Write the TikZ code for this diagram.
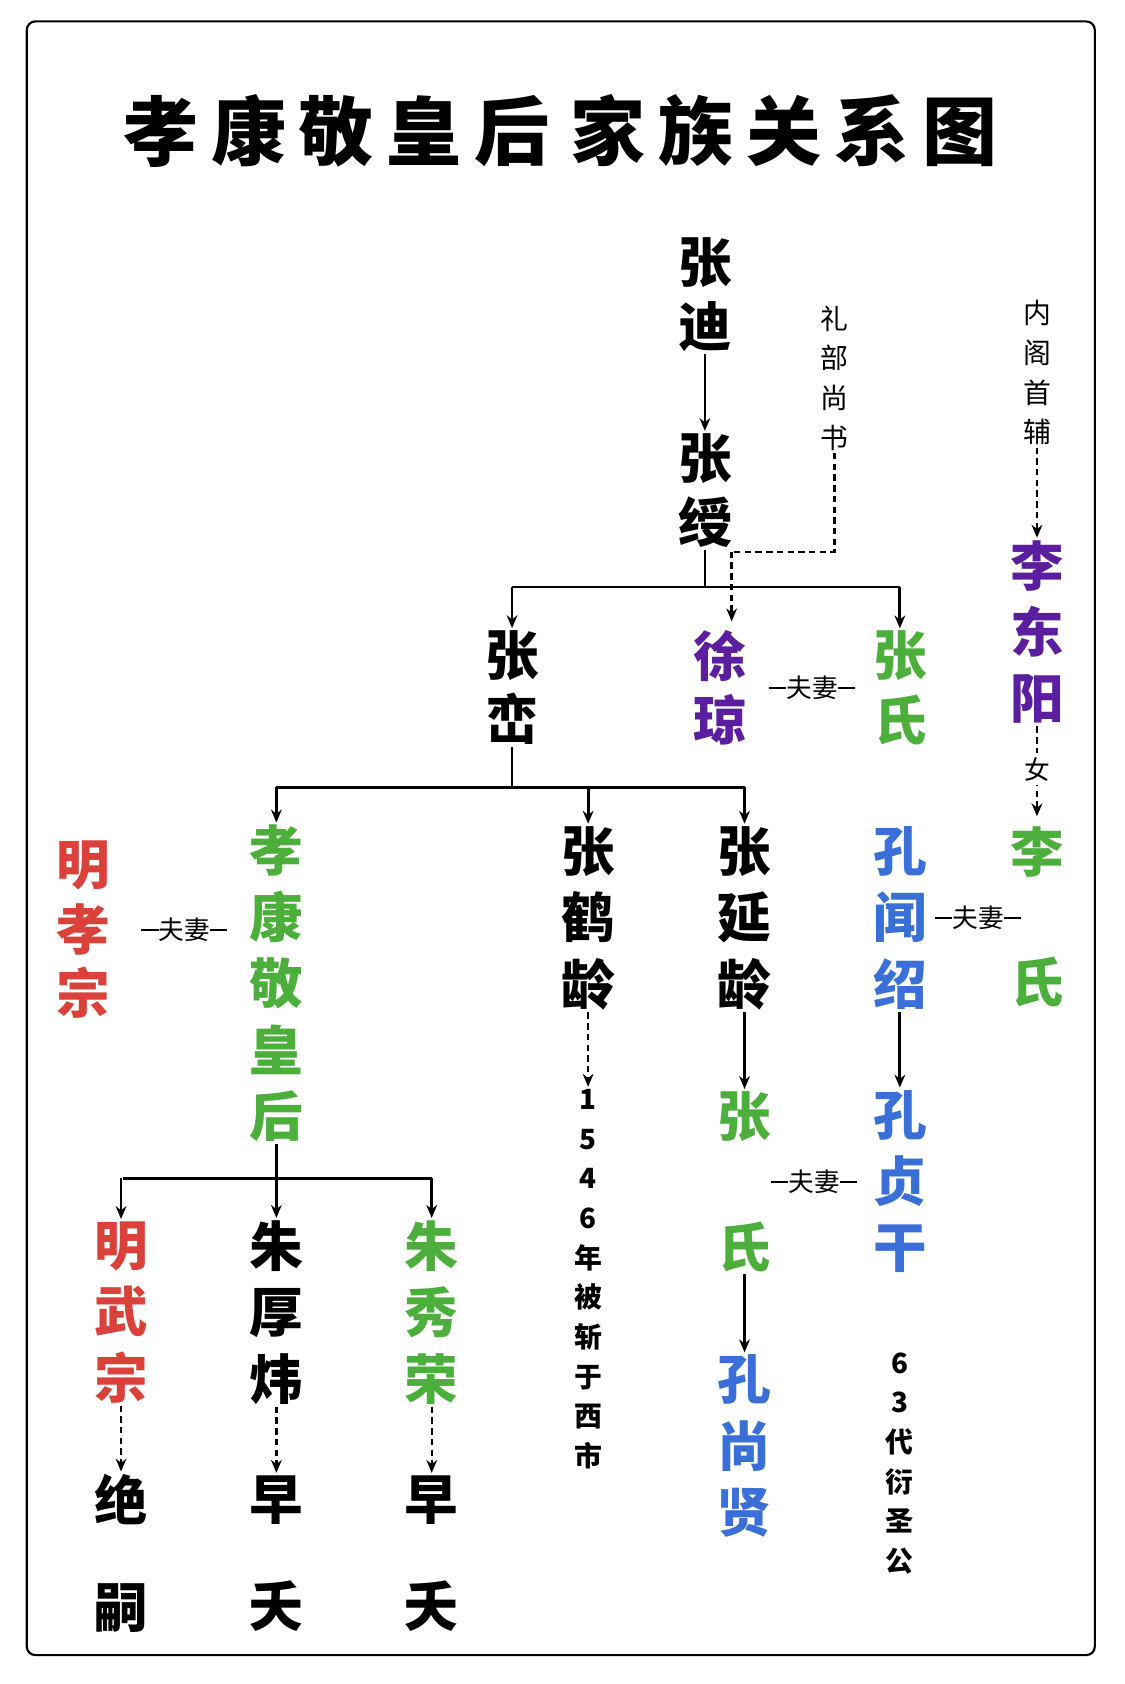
\documentclass[tikz,border=0pt]{standalone}
\usepackage{fontspec}
\newfontfamily\cjk{Noto Sans CJK SC}
\usetikzlibrary{arrows.meta}
\definecolor{cg}{HTML}{4CAF3C}
\definecolor{cp}{HTML}{5A1E9E}
\definecolor{cr}{HTML}{D9413A}
\definecolor{cb}{HTML}{3B6FD8}
\newcommand{\fq}{\rule[0.6ex]{8pt}{0.9pt}夫妻\rule[0.6ex]{8pt}{0.9pt}}
\newcommand{\tg}{\hspace{6pt}}
\begin{document}
\begin{tikzpicture}[x=0.5pt,y=-0.5pt,
 nm/.style={font=\cjk\bfseries\fontsize{25}{30}\selectfont,align=center,inner sep=1pt},
 nm2/.style={font=\cjk\bfseries\fontsize{25}{31}\selectfont,align=center,inner sep=1pt},
 sm/.style={font=\cjk\fontsize{13}{18.5}\selectfont,align=center,inner sep=1pt},
 smb/.style={font=\cjk\bfseries\fontsize{13}{18.5}\selectfont,align=center,inner sep=1pt},
 fqs/.style={font=\cjk\fontsize{12}{14}\selectfont,inner sep=1pt},
 ln/.style={line width=1.3pt},
 ar/.style={line width=1.3pt,-{Stealth[length=6pt,width=5pt]}},
 da/.style={line width=1.1pt,dashed,dash pattern=on 3pt off 2pt,-{Stealth[length=6pt,width=5pt]}}]
\useasboundingbox (0,0) rectangle (1050,1572);
\draw[line width=1pt,rounded corners=4pt] (25,20) rectangle (1022,1545);
\node[font=\cjk\bfseries\fontsize{35}{40}\selectfont] (title) at (523,122) {孝\tg 康\tg 敬\tg 皇\tg 后\hspace{10pt}家\tg 族\tg 关\tg 系\tg 图};
% nodes
\node[nm] (zd) at (658,275) {张\\迪};
\node[nm] (zs) at (658,458) {张\\绶};
\node[sm] (lb) at (779,353) {礼\\部\\尚\\书};
\node[nm] (zl) at (478,642) {张\\峦};
\node[nm,text=cp] (xq) at (672,642) {徐\\琼};
\node[nm,text=cg] (zsh) at (840,642) {张\\氏};
\node[fqs] (f1) at (758,642) {\fq};
\node[sm] (ng) at (968,348) {内\\阁\\首\\辅};
\node[nm2,text=cp] (ldy) at (968,590) {李\\东\\阳};
\node[nm,text=cg] (lsh) at (968,856) {李\\[31pt]氏};
\node[nm,text=cr] (mxz) at (78,868) {明\\孝\\宗};
\node[fqs] (f2) at (172,868) {\fq};
\node[nm2,text=cg] (xk) at (258,918) {孝\\康\\敬\\皇\\后};
\node[nm2] (zhl) at (549,857) {张\\鹤\\龄};
\node[nm2] (zyl) at (695,857) {张\\延\\龄};
\node[nm2,text=cb] (kws) at (840,857) {孔\\闻\\绍};
\node[fqs] (f3) at (913,857) {\fq};
\node[smb] (dt) at (549,1194) {1\\5\\4\\6\\年\\被\\斩\\于\\西\\市};
\node[nm,text=cg] (zsh2) at (695,1103) {张\\[31pt]氏};
\node[nm2,text=cb] (kzg) at (840,1103) {孔\\贞\\干};
\node[fqs] (f4) at (760,1103) {\fq};
\node[nm2,text=cb] (ksx) at (695,1350) {孔\\尚\\贤};
\node[smb] (s63) at (840,1366) {6\\3\\代\\衍\\圣\\公};
\node[nm2,text=cr] (mwz) at (113,1225) {明\\武\\宗};
\node[nm2] (zhw) at (258,1225) {朱\\厚\\炜};
\node[nm2,text=cg] (zxr) at (403,1225) {朱\\秀\\荣};
\node[nm] (je) at (113,1450) {绝\\[20pt]嗣};
\node[nm] (zy1) at (258,1450) {早\\[20pt]夭};
\node[nm] (zy2) at (403,1450) {早\\[20pt]夭};
% connectors
\draw[ar] (zd) -- (zs);
\draw[ln] (zs.south) -- (658,548);
\draw[ln] (478,548) -- (840,548);
\draw[ar] (478,548) -- (zl.north);
\draw[ar] (840,548) -- (zsh.north);
\draw[line width=1.1pt,dashed,dash pattern=on 3pt off 2pt] (lb.south) -- (779,515) -- (683,515);
\draw[da] (683,515) -- (683,580);
\draw[da] (ng.south) -- (ldy.north);
\draw[da] (ldy.south) -- (968,762);
\node[fqs,fill=white,inner sep=2pt] (nv) at (968,718) {女};
\draw[ln] (zl.south) -- (478,735);
\draw[ln] (258,735) -- (695,735);
\draw[ar] (258,735) -- (xk.north);
\draw[ar] (549,735) -- (zhl.north);
\draw[ar] (695,735) -- (zyl.north);
\draw[da] (zhl.south) -- (dt.north);
\draw[ar] (zyl.south) -- (zsh2.north);
\draw[ar] (zsh2.south) -- (ksx.north);
\draw[ar] (kws.south) -- (kzg.north);
\draw[ln] (xk.south) -- (258,1100);
\draw[ln] (115,1100) -- (403,1100);
\draw[ar] (113,1100) -- (mwz.north);
\draw[ar] (258,1100) -- (zhw.north);
\draw[ar] (403,1100) -- (zxr.north);
\draw[da] (mwz.south) -- (je.north);
\draw[da] (zhw.south) -- (zy1.north);
\draw[da] (zxr.south) -- (zy2.north);
\end{tikzpicture}
\end{document}
